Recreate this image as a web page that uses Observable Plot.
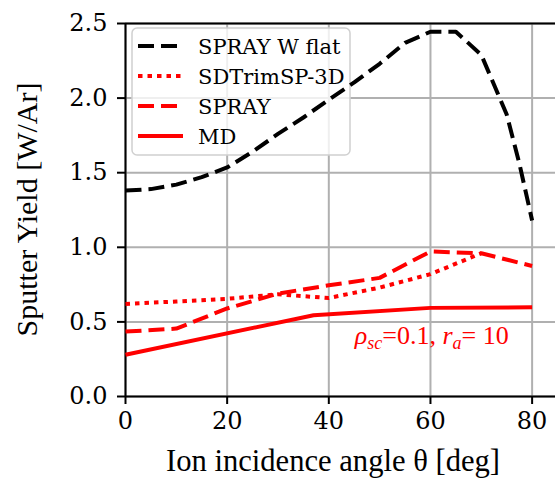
<!DOCTYPE html>
<html>
<head>
<meta charset="utf-8">
<script src="https://cdn.jsdelivr.net/npm/d3@7"></script>
<script src="https://cdn.jsdelivr.net/npm/@observablehq/plot@0.6"></script>
<style>
  html, body { margin: 0; padding: 0; background: #fff; overflow: hidden; }
</style>
</head>
<body>
<div id="chart"></div>
<script>
// ---- data ----
const flatAngle  = [0, 5, 10, 15, 20, 25, 30, 35, 40, 45, 50, 55, 60, 65, 70, 75, 77.5, 80];
const flatYield  = [1.38, 1.39, 1.42, 1.47, 1.535, 1.64, 1.76, 1.87, 1.99, 2.105, 2.23, 2.37, 2.445, 2.445, 2.29, 1.89, 1.56, 1.18];

const sdtAngle   = [0, 10, 20, 30, 40, 50, 60, 70];
const sdtYield   = [0.62, 0.637, 0.655, 0.685, 0.66, 0.73, 0.82, 0.96];

const sprayAngle = [0, 10, 20, 30, 40, 50, 60, 70, 80];
const sprayYield = [0.435, 0.455, 0.59, 0.69, 0.745, 0.795, 0.972, 0.96, 0.875];

const mdAngle    = [0, 37, 60, 80];
const mdYield    = [0.28, 0.545, 0.594, 0.598];

const seriesNames = ["SPRAY W flat", "SDTrimSP-3D", "SPRAY", "MD"];
const xTicks = [0, 20, 40, 60, 80];
const yTicks = [0, 0.5, 1.0, 1.5, 2.0, 2.5];
const xLabel = "Ion incidence angle θ [deg]";
const yLabel = "Sputter Yield [W/Ar]";
const annotAt = {x: 45.2, y: 0.35};

// ---- styles ----
const styles = [
  {stroke: "#000000", dash: "16,7"},
  {stroke: "#ff0000", dash: "4.5,5"},
  {stroke: "#ff0000", dash: "16,7"},
  {stroke: "#ff0000", dash: null}
];
const toRows = (xs, ys) => xs.map((x, i) => ({x, y: ys[i]}));
const seriesData = [
  toRows(flatAngle, flatYield),
  toRows(sdtAngle, sdtYield),
  toRows(sprayAngle, sprayYield),
  toRows(mdAngle, mdYield)
];

const tickFont = "DejaVu Serif";
const labelFont = "Liberation Serif";

const plot = Plot.plot({
  width: 555,
  height: 478,
  marginLeft: 125,
  marginRight: 0,
  marginTop: 23,
  marginBottom: 82,
  style: {background: "#fff", overflow: "visible"},
  x: {domain: [0, 84.6], label: null},
  y: {domain: [0, 2.5], label: null},
  marks: [
    Plot.gridX(xTicks, {stroke: "#b0b0b0", strokeOpacity: 1, strokeWidth: 2}),
    Plot.gridY(yTicks, {stroke: "#b0b0b0", strokeOpacity: 1, strokeWidth: 2}),
    Plot.axisX(xTicks, {tickSize: 8, tickPadding: 7, fontSize: 24, fontFamily: tickFont, stroke: "#000", strokeWidth: 2, fill: "#000", label: null}),
    Plot.axisY(yTicks, {tickSize: 8, tickPadding: 10, fontSize: 24, fontFamily: tickFont, tickFormat: d3.format(".1f"), stroke: "#000", strokeWidth: 2, fill: "#000", label: null}),
    Plot.ruleX([0], {stroke: "#000", strokeWidth: 2}),
    Plot.ruleY([0, 2.5], {stroke: "#000", strokeWidth: 2}),
    ...seriesData.map((d, i) => Plot.line(d, {
      x: "x", y: "y",
      stroke: styles[i].stroke,
      strokeWidth: 4,
      strokeDasharray: styles[i].dash,
      strokeLinecap: "butt",
      strokeLinejoin: "round"
    }))
  ]
});

document.getElementById("chart").appendChild(plot);

const svg = d3.select(plot);
const sx = plot.scale("x");
const sy = plot.scale("y");

// axis titles
svg.append("text")
  .attr("x", 333).attr("y", 471)
  .attr("text-anchor", "middle")
  .attr("font-family", labelFont).attr("font-size", 30.6).attr("fill", "#000")
  .text(xLabel);
svg.append("text")
  .attr("transform", "translate(37," + ((sy.apply(0) + sy.apply(2.5)) / 2) + ") rotate(-90)")
  .attr("text-anchor", "middle")
  .attr("font-family", labelFont).attr("font-size", 30).attr("fill", "#000")
  .text(yLabel);

// legend (drawn above grid, below lines)
const firstLine = plot.querySelector('g[aria-label="line"]');
const leg = d3.select(plot.insertBefore(document.createElementNS("http://www.w3.org/2000/svg", "g"), firstLine));
leg.append("rect")
  .attr("x", 132).attr("y", 28).attr("width", 218).attr("height", 127)
  .attr("rx", 5).attr("fill", "#fff").attr("fill-opacity", 0.8)
  .attr("stroke", "#d0d0d0").attr("stroke-width", 1.5);
seriesNames.forEach((name, i) => {
  const cy = 46 + i * 30;
  leg.append("line")
    .attr("x1", 138).attr("x2", 183).attr("y1", cy).attr("y2", cy)
    .attr("stroke", styles[i].stroke).attr("stroke-width", 4)
    .attr("stroke-dasharray", styles[i].dash);
  leg.append("text")
    .attr("x", 198).attr("y", cy + 7.5)
    .attr("text-anchor", "start")
    .attr("font-family", tickFont).attr("font-size", 21).attr("fill", "#000")
    .text(name);
});

// annotation
const ann = svg.append("text")
  .attr("x", sx.apply(annotAt.x)).attr("y", sy.apply(annotAt.y))
  .attr("text-anchor", "start")
  .attr("font-family", labelFont).attr("font-size", 26).attr("fill", "#ff0000");
ann.append("tspan").attr("font-style", "italic").text("ρ");
ann.append("tspan").attr("font-style", "italic").attr("font-size", 18).attr("dy", 5).text("sc");
ann.append("tspan").attr("dy", -5).text("=0.1, ");
ann.append("tspan").attr("font-style", "italic").text("r");
ann.append("tspan").attr("font-style", "italic").attr("font-size", 18).attr("dy", 5).text("a");
ann.append("tspan").attr("dy", -5).text("= 10");
</script>
</body>
</html>
